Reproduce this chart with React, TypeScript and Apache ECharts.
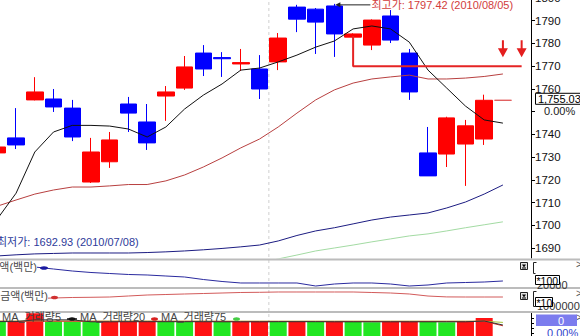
import React, { useEffect, useRef } from "react";
import * as echarts from "echarts";

// ---------- data ----------
const dates = [
  "2010/07/12", "2010/07/13", "2010/07/14", "2010/07/15", "2010/07/16", "2010/07/19", "2010/07/20",
  "2010/07/21", "2010/07/22", "2010/07/23", "2010/07/26", "2010/07/27", "2010/07/28", "2010/07/29",
  "2010/07/30", "2010/08/02", "2010/08/03", "2010/08/04", "2010/08/05", "2010/08/06", "2010/08/09",
  "2010/08/10", "2010/08/11", "2010/08/12", "2010/08/13", "2010/08/16", "2010/08/17", "2010/08/18",
  "2010/08/19",
];

// [open, close, low, high]
const candles = [
  [1731.9, 1734.5, 1729.5, 1736.0],
  [1738.5, 1735.4, 1733.6, 1751.6],
  [1755.2, 1758.7, 1755.0, 1765.2],
  [1755.6, 1752.1, 1749.9, 1760.0],
  [1751.6, 1738.9, 1737.1, 1755.2],
  [1719.1, 1732.3, 1718.7, 1738.5],
  [1728.0, 1737.6, 1725.3, 1741.1],
  [1753.4, 1749.4, 1741.1, 1756.5],
  [1745.5, 1736.3, 1733.2, 1753.4],
  [1756.9, 1758.7, 1746.0, 1761.3],
  [1760.4, 1769.7, 1759.6, 1774.5],
  [1775.8, 1768.8, 1765.7, 1779.3],
  [1773.8, 1773.3, 1765.3, 1776.2],
  [1771.0, 1771.6, 1767.9, 1777.6],
  [1768.8, 1760.0, 1755.6, 1774.9],
  [1771.9, 1782.4, 1768.3, 1784.6],
  [1796.0, 1790.7, 1785.0, 1797.0],
  [1795.1, 1789.4, 1775.4, 1795.6],
  [1796.5, 1784.2, 1774.1, 1797.42],
  [1782.8, 1784.2, 1782.4, 1784.5],
  [1779.3, 1790.3, 1777.1, 1790.6],
  [1792.1, 1781.5, 1780.2, 1794.7],
  [1775.8, 1758.7, 1755.2, 1777.6],
  [1731.9, 1721.8, 1721.8, 1743.3],
  [1731.4, 1747.3, 1725.7, 1747.8],
  [1735.8, 1743.8, 1717.4, 1746.4],
  [1738.0, 1755.03, 1735.4, 1757.5],
  [1755.03, 1755.03, 1755.03, 1755.03],
];

const ma5 = [1702.9, 1714.2, 1732.3, 1741.1, 1744.0, 1744.0, 1743.7, 1742.4, 1738.9, 1743.3, 1751.2, 1757.3, 1762.2, 1768.3, 1769.2, 1771.9, 1774.9, 1778.4, 1781.1, 1786.4, 1787.7, 1786.4, 1780.6, 1768.3, 1760.4, 1752.5, 1746.4, 1745.0];
const ma20 = [1708.5, 1711.2, 1713.8, 1715.6, 1716.9, 1716.9, 1717.4, 1718.0, 1718.0, 1719.6, 1722.2, 1725.7, 1729.7, 1734.1, 1738.0, 1743.3, 1749.4, 1755.2, 1759.6, 1762.6, 1764.4, 1765.3, 1766.1, 1764.4, 1764.4, 1764.8, 1765.5, 1766.6];
const ma60 = [1686.6, 1687.1, 1687.5, 1687.7, 1687.9, 1687.9, 1687.9, 1687.9, 1688.1, 1688.4, 1688.8, 1689.3, 1689.9, 1690.6, 1691.4, 1693.2, 1695.6, 1697.6, 1699.0, 1700.7, 1702.4, 1703.7, 1704.6, 1705.5, 1707.7, 1710.3, 1713.8, 1717.8];
const ma120 = [1675.8, 1676.4, 1677.1, 1677.5, 1677.9, 1678.1, 1678.6, 1679.1, 1679.3, 1679.9, 1680.4, 1680.8, 1681.5, 1682.2, 1683.6, 1685.3, 1687.0, 1688.8, 1690.1, 1691.4, 1692.8, 1694.1, 1695.4, 1696.3, 1697.6, 1699.0, 1700.3, 1701.6];

// horizontal support line drawn from the 08/06 candle
const supportPath = [[19, 1783.3], [19, 1770], [28, 1770]];
const signalSlots = [27, 28];
const signalLevel = 1777.7;

const capValues = [84.6, 80.8, 76.9, 69.2, 61.5, 55.8, 51.9, 48.1, 46.2, 42.3, 38.5, 28.8, 21.2, 15.4, 15.4, 15.4, 15.4, 3.8, 11.5, 15.4, 15.4, 11.5, 3.8, 7.7, 15.4, 17.3, 19.2, 23.1];
const amountValues = [54.5, 55.5, 56.8, 59.1, 61.4, 62.3, 63.6, 68.2, 72.7, 75.0, 77.3, 79.5, 81.8, 84.1, 85.0, 86.4, 86.4, 86.4, 86.4, 86.4, 84.1, 81.8, 77.3, 68.0, 64.0, 63.6, 63.6, 63.6];

const prevVolume = 916;
const volumes = [912, 914, 998, 918, 915, 911, 913, 916, 919, 914, 910, 913, 909, 912, 915, 911, 914, 910, 913, 911, 908, 912, 915, 911, 908, 912, 950, 0];
const volMa5 = [914, 914, 931, 932, 931, 912, 912, 913, 913, 913, 913, 913, 912, 912, 912, 913, 913, 913, 912, 912, 912, 912, 912, 912, 912, 912, 920, 880];
const volMa20 = [917, 917, 918, 918, 918, 917, 917, 917, 917, 917, 917, 917, 916, 916, 916, 916, 916, 916, 916, 916, 916, 916, 916, 916, 916, 916, 917, 872];
const volMa75 = [919, 919, 919, 919, 919, 919, 919, 919, 919, 918, 918, 918, 918, 918, 918, 918, 918, 918, 918, 918, 918, 918, 918, 918, 918, 918, 918, 906];

const priceTicks = [1690, 1700, 1710, 1720, 1730, 1740, 1750, 1760, 1770, 1780, 1790, 1800];
const priceLabels = [1690, 1700, 1710, 1720, 1730, 1740, 1760, 1770, 1780, 1790, 1800];
const volumeTicks = [950, 900, 850, 800];

const highValue = 1797.42;
const highDate = "2010/08/05";
const lowValue = 1692.93;
const lowDate = "2010/07/08";
const lastPrice = 1755.03;
const lastPriceText = "1,755.03";
const lastChange = "0.00%";

const FONT = 'Arial, "Liberation Sans", "Noto Sans CJK KR", sans-serif';
const UP = "#ff0000";
const DOWN = "#0000ff";
const VUP = "#ff1212";
const VDOWN = "#22e622";

// the chart canvas is larger than the viewport and shifted, so the first
// slot and the top tick can sit partly outside the visible frame
const OX = 12;
const OY = 10;

export default function App() {
  const ref = useRef<HTMLDivElement>(null);

  useEffect(() => {
    document.body.style.margin = "0";
    const chart = echarts.init(ref.current!, null, { renderer: "svg" });

    const gr = 49;
    const grids = [
      { left: 0, right: gr, top: -2 + OY, height: 260 },
      { left: 0, right: gr, top: 261 + OY, height: 26 },
      { left: 0, right: gr, top: 289 + OY, height: 22 },
      { left: 0, right: gr, top: 313 + OY, height: 100 },
    ];
    const xAxes = grids.map((_, i) => ({
      type: "category",
      gridIndex: i,
      data: dates,
      boundaryGap: true,
      show: false,
    }));

    const hiddenY = (i: number) => ({
      type: "value",
      gridIndex: i,
      min: 0,
      max: 100,
      show: false,
    });

    const lineS = (data: any[], color: string, xi: number, width = 1) => ({
      type: "line",
      xAxisIndex: xi,
      yAxisIndex: xi,
      data,
      symbol: "none",
      lineStyle: { color, width },
      silent: true,
    });

    const option: any = {
      animation: false,
      grid: grids,
      xAxis: xAxes,
      yAxis: [
        {
          type: "value",
          gridIndex: 0,
          position: "right",
          min: 1685.7,
          max: 1800,
          splitLine: { show: false },
          axisLine: { show: true, lineStyle: { color: "#000", width: 1 } },
          axisTick: { show: true, length: 4, customValues: priceTicks, lineStyle: { color: "#000" } },
          axisLabel: {
            customValues: priceLabels,
            formatter: (v: number) => String(v),
            color: "#111",
            fontSize: 11.5,
            fontFamily: FONT,
            margin: 4,
          },
        },
        hiddenY(1),
        hiddenY(2),
        {
          type: "value",
          gridIndex: 3,
          position: "right",
          min: 0,
          max: 1000,
          splitLine: { show: false },
          axisLine: { show: true, lineStyle: { color: "#000" } },
          axisTick: { show: true, length: 3, customValues: volumeTicks, lineStyle: { color: "#000" } },
          axisLabel: { show: false },
        },
      ],
      series: [
        {
          type: "candlestick",
          xAxisIndex: 0,
          yAxisIndex: 0,
          data: candles,
          barWidth: 17,
          itemStyle: {
            color: UP,
            color0: DOWN,
            borderColor: UP,
            borderColor0: DOWN,
            borderColorDoji: "#e05a5a",
            borderWidth: 1,
          },
          markPoint: {
            symbol: "path://M4,0L6,0L6,8L10,8L5,17L0,8L4,8Z",
            symbolSize: [10, 17],
            itemStyle: { color: "#e41e1e" },
            label: { show: false },
            data: signalSlots.map((i) => ({ coord: [i, signalLevel] })),
          },
        },
        lineS(ma120, "#a3dba3", 0),
        lineS(ma60, "#1c1c82", 0),
        lineS(ma20, "#b84040", 0),
        lineS(ma5, "#111111", 0),
        lineS(supportPath, "#e52424", 0, 2),
        lineS(capValues, "#2a2a9e", 1),
        lineS(amountValues, "#d25a5a", 2),
        {
          type: "bar",
          xAxisIndex: 3,
          yAxisIndex: 3,
          barWidth: 17,
          data: volumes.map((v, i) => ({
            value: v,
            itemStyle: { color: v > (i ? volumes[i - 1] : prevVolume) ? VUP : VDOWN },
          })),
        },
        lineS(volMa75, "#a6c83a", 3),
        lineS(volMa20, "#d83030", 3),
        lineS(volMa5, "#333333", 3),
      ],
    };

    chart.setOption(option);

    const P = (g: number, x: number, y: number) =>
      chart.convertToPixel({ gridIndex: g } as any, [x, y]) as number[];
    const X = (x: number) => x + OX;
    const Y = (y: number) => y + OY;

    const txt = (
      text: string,
      x: number,
      y: number,
      fill: string,
      size = 11,
      align = "left",
      extra: any = {}
    ) => ({
      type: "text",
      x,
      y,
      z: 100,
      silent: true,
      style: {
        text,
        fill,
        font: `${size}px ${FONT}`,
        textAlign: align,
        align,
        textVerticalAlign: "middle",
        verticalAlign: "middle",
        ...extra,
      },
    });

    // month boundary
    let mIdx = 1;
    for (let i = 1; i < dates.length; i++) {
      if (dates[i].slice(5, 7) !== dates[i - 1].slice(5, 7)) { mIdx = i; break; }
    }
    const mx = (P(0, mIdx - 1, 1750)[0] + P(0, mIdx, 1750)[0]) / 2;

    // high annotation
    let hi = 0;
    candles.forEach((c, i) => { if (c[3] > candles[hi][3]) hi = i; });
    const hp = P(0, hi, highValue);
    const hy = hp[1] + 1;

    const lowY = P(0, 0, lowValue)[1];
    const lp = P(0, candles.length - 1, lastPrice)[1];

    const elements: any[] = [
      {
        type: "line", z: 1, silent: true,
        shape: { x1: mx, y1: 0, x2: mx, y2: Y(336) },
        style: { stroke: "#cfcfcf", lineWidth: 1, lineDash: [3, 3] },
      },
      ...[259.5, 288, 312].map((y) => ({
        type: "line", z: 90, silent: true,
        shape: { x1: 0, y1: Y(y), x2: X(580), y2: Y(y) },
        style: { stroke: "#bcbcbc", lineWidth: 2 },
      })),
      // high marker
      {
        type: "line", z: 100, silent: true,
        shape: { x1: hp[0] + 3, y1: hy, x2: hp[0] + 36, y2: hy },
        style: { stroke: "#222", lineWidth: 1 },
      },
      {
        type: "polygon", z: 100, silent: true,
        shape: { points: [[hp[0] + 1, hy], [hp[0] + 6, hy - 2.5], [hp[0] + 6, hy + 2.5]] },
        style: { fill: "#222" },
      },
      txt(`최고가: ${highValue.toFixed(2)} (${highDate})`, hp[0] + 37, hy, "#d23c3c", 11),
      txt(`최저가: ${lowValue.toFixed(2)} (${lowDate})`, X(-3), lowY, "#2d3a9a", 11),
      // last price box
      {
        type: "rect", z: 100, silent: true,
        shape: { x: X(535.5), y: lp - 7, width: 50, height: 11 },
        style: { fill: "#fff", stroke: "#000", lineWidth: 1 },
      },
      txt(lastPriceText, X(538), lp - 1.5, "#000", 11),
      txt(lastChange, X(544), lp + 10.5, "#222", 11, "left", { backgroundColor: "#fff" }),
      // panel labels
      txt("시가총액(백만)", X(37), Y(267), "#4a4a4a", 11, "right", { backgroundColor: "#fff" }),
      { type: "ellipse", z: 100, silent: true, shape: { cx: X(44), cy: Y(268), rx: 4, ry: 1.8 }, style: { fill: "#1a1aa0" } },
      txt("거래금액(백만)", X(48), Y(295.5), "#4a4a4a", 11, "right", { backgroundColor: "#fff" }),
      { type: "ellipse", z: 100, silent: true, shape: { cx: X(54.5), cy: Y(297.5), rx: 3.5, ry: 1.8 }, style: { fill: "#d03030" } },
      // volume legend
      txt("MA_거래량5", X(2), Y(317), "#444", 11),
      { type: "line", z: 100, silent: true, shape: { x1: X(67), y1: Y(319), x2: X(77), y2: Y(319) }, style: { stroke: "#111", lineWidth: 1.5 } },
      { type: "ellipse", z: 100, silent: true, shape: { cx: X(72), cy: Y(319), rx: 3.5, ry: 1.8 }, style: { fill: "#111" } },
      txt("MA_거래량20", X(80), Y(317), "#444", 11),
      { type: "ellipse", z: 100, silent: true, shape: { cx: X(154.5), cy: Y(319), rx: 3.5, ry: 1.8 }, style: { fill: "#d82020" } },
      txt("MA_거래량75", X(161), Y(317), "#444", 11),
      { type: "ellipse", z: 100, silent: true, shape: { cx: X(236.5), cy: Y(319), rx: 3.5, ry: 1.8 }, style: { fill: "#44cc44" } },
      // right side decorations
      ...[262.5, 292.5].flatMap((y) => [
        { type: "rect", z: 100, silent: true, shape: { x: X(520.5), y: Y(y), width: 7, height: 7 }, style: { fill: "#e4e4e4", stroke: "#222", lineWidth: 1 } },
        { type: "polygon", z: 101, silent: true, shape: { points: [[X(522), Y(y + 2)], [X(526), Y(y + 2)], [X(524), Y(y + 5)]] }, style: { fill: "#000" } },
        { type: "line", z: 101, silent: true, shape: { x1: X(522), y1: Y(y + 5.5), x2: X(526), y2: Y(y + 5.5) }, style: { stroke: "#000", lineWidth: 1 } },
      ]),
      ...[264, 293, 317].map((y) => txt(">", X(576), Y(y), "#555", 10)),
      { type: "polyline", z: 100, silent: true, shape: { points: [[X(536.5), Y(262.5)], [X(533.5), Y(262.5)], [X(533.5), Y(273.5)], [X(535.5), Y(273.5)]] }, style: { stroke: "#222", fill: null, lineWidth: 1 } },
      { type: "polyline", z: 100, silent: true, shape: { points: [[X(536.5), Y(291.5)], [X(533.5), Y(291.5)], [X(533.5), Y(306.5)], [X(535.5), Y(306.5)]] }, style: { stroke: "#222", fill: null, lineWidth: 1 } },
      txt("20000", X(537), Y(285), "#333", 11),
      { type: "rect", z: 102, silent: true, shape: { x: X(535.5), y: Y(275.5), width: 24, height: 9 }, style: { fill: "#fff", stroke: "#000", lineWidth: 1 } },
      { ...txt("*100", X(536.5), Y(280.5), "#000", 10.5), z: 103 },
      txt("100000000", X(537), Y(305.5), "#333", 11),
      { type: "rect", z: 102, silent: true, shape: { x: X(535.5), y: Y(297.5), width: 17, height: 9 }, style: { fill: "#fff", stroke: "#000", lineWidth: 1 } },
      { ...txt("*10", X(536.5), Y(302.5), "#000", 10.5), z: 103 },
      { type: "rect", z: 100, silent: true, shape: { x: X(536), y: Y(314.5), width: 41, height: 11.5 }, style: { fill: "#7c7cee" } },
      { ...txt(String(volumes[volumes.length - 1]), X(561), Y(320.5), "#fff", 11, "center"), z: 101 },
      txt(lastChange, X(547), Y(333), "#3344cc", 11),
    ];

    chart.setOption({ graphic: { elements } });

    return () => chart.dispose();
  }, []);

  return (
    <div style={{ position: "fixed", left: 0, top: 0, width: 580, height: 336, overflow: "hidden", background: "#fff" }}>
      <div
        ref={ref}
        style={{ position: "absolute", left: -OX, top: -OY, width: 580 + OX, height: 440 }}
      />
    </div>
  );
}
